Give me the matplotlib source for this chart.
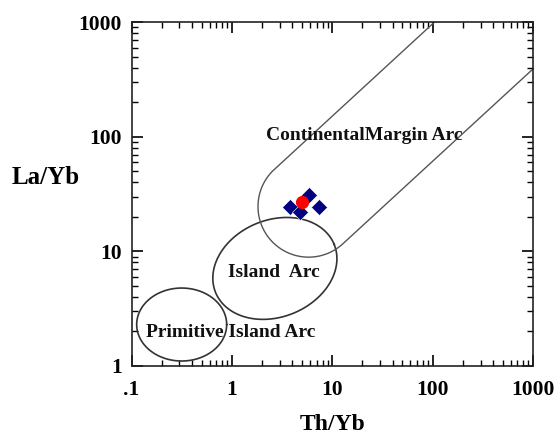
import numpy as np
import matplotlib
matplotlib.use("Agg")
import matplotlib.pyplot as plt
from matplotlib.ticker import FixedLocator, LogLocator, NullFormatter

plt.rcParams["font.family"] = ["Liberation Serif", "DejaVu Serif"]
plt.rcParams["font.weight"] = "bold"

# samples (Th/Yb, La/Yb)
th_yb = [3.8, 5.9, 7.3, 4.8]
la_yb = [24.5, 31.0, 24.2, 22.2]
# average sample
avg_th_yb = [4.95]
avg_la_yb = [27.0]

x_ticks = [0.1, 1, 10, 100, 1000]
x_tick_labels = [".1", "1", "10", "100", "1000"]
y_ticks = [1, 10, 100, 1000]
y_tick_labels = ["1", "10", "100", "1000"]

# field geometry: centre in data units, semi-axes in pixels, angle in degrees
pia_centre = (0.316, 2.3)
pia_axes = (45, 36.5, 0)
ia_centre = (2.68, 7.1)
ia_axes = (64, 48.5, 22)
cma_centre = (5.81, 24.6)
cma_radius = 50.6
cma_slope_deg = 42.6

fig = plt.figure(figsize=(5.58, 4.34), dpi=100)
fig.subplots_adjust(left=0.2357, right=0.9552, bottom=0.1567, top=0.949)
ax = fig.add_subplot(111)
ax.set_xscale("log")
ax.set_yscale("log")
ax.set_xlim(0.1, 1000)
ax.set_ylim(1, 1000)


def to_data(pts):
    return ax.transData.inverted().transform(pts)


def draw_ellipse(centre, a, b, ang, **kw):
    c = ax.transData.transform(centre)
    t = np.linspace(0, 2 * np.pi, 300)
    th = np.radians(ang)
    px = c[0] + a * np.cos(t) * np.cos(th) - b * np.sin(t) * np.sin(th)
    py = c[1] + a * np.cos(t) * np.sin(th) + b * np.sin(t) * np.cos(th)
    d = to_data(np.column_stack([px, py]))
    ax.plot(d[:, 0], d[:, 1], **kw)


ell_style = dict(color="#333333", lw=1.2)
draw_ellipse(pia_centre, *pia_axes, **ell_style)
draw_ellipse(ia_centre, *ia_axes, **ell_style)

# continental margin arc: U shape open to the upper right
c = ax.transData.transform(cma_centre)
phi = np.radians(cma_slope_deg)
direc = np.array([np.cos(phi), np.sin(phi)])
alpha = np.linspace(phi + np.pi / 2, phi + 3 * np.pi / 2, 200)
arc = np.column_stack([c[0] + cma_radius * np.cos(alpha), c[1] + cma_radius * np.sin(alpha)])
start = arc[0] + direc * 600
end = arc[-1] + direc * 600
path = np.vstack([start, arc, end])
d = to_data(path)
ax.plot(d[:, 0], d[:, 1], color="#555555", lw=1.0)

ax.plot(th_yb, la_yb, "D", color="#000080", ms=8.5, mec="white", mew=0.4, ls="none")
ax.plot(avg_th_yb, avg_la_yb, "o", color="red", ms=8.5, mec="red", ls="none")

lab = dict(fontsize=14, fontweight="bold", color="#111111", ha="center", va="center")
ax.text(21, 103, "ContinentalMargin Arc", **lab)
ax.text(2.62, 6.6, "Island  Arc", **lab)
ax.text(0.98, 1.95, "Primitive Island Arc", **lab)

ax.xaxis.set_major_locator(FixedLocator(x_ticks))
ax.set_xticklabels(x_tick_labels)
ax.yaxis.set_major_locator(FixedLocator(y_ticks))
ax.set_yticklabels(y_tick_labels)
for axis in (ax.xaxis, ax.yaxis):
    axis.set_minor_locator(LogLocator(base=10, subs=np.arange(2, 10)))
    axis.set_minor_formatter(NullFormatter())
ax.tick_params(which="both", direction="in", top=True, right=True, labelsize=15.5)
ax.tick_params(axis="x", pad=10)
ax.tick_params(axis="y", pad=7)
ax.tick_params(which="major", length=8, width=1.2)
ax.tick_params(which="minor", length=4, width=1.0)
for s in ax.spines.values():
    s.set_linewidth(1.2)
    s.set_color("#222222")

ax.set_xlabel("Th/Yb", fontsize=17, fontweight="bold", labelpad=10)
fig.text(0.082, 0.59, "La/Yb", fontsize=18, fontweight="bold", ha="center", va="center")

fig.savefig("out.png", dpi=100)
